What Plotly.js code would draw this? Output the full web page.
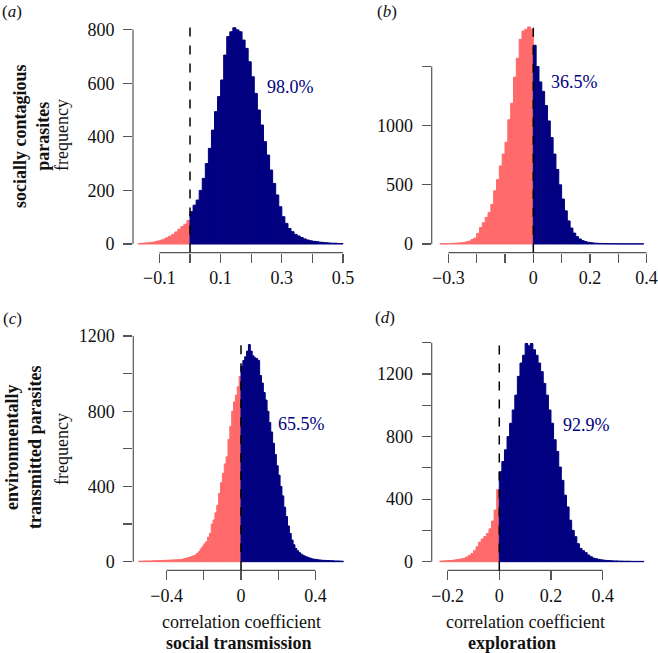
<!DOCTYPE html>
<html>
<head>
<meta charset="utf-8">
<script src="https://cdn.plot.ly/plotly-3.0.1.min.js"></script>
<style>
  html, body { margin: 0; padding: 0; background: #fff; }
  #plot { width: 658px; height: 653px; }
</style>
</head>
<body>
<div id="plot"></div>
<script>
// histogram bins are 0.01 wide; each panel starts at its own left edge
const binWidth = 0.01;

// (a) socially contagious parasites - social transmission
const aStart = -0.17;
const aCounts = [2, 3, 4, 5, 6, 8, 11, 14, 18, 23, 29, 36, 45, 55, 65, 74, 88,
  121, 145, 164, 200, 245, 300, 357, 425, 494, 550, 612, 705, 774, 792, 807, 799, 792, 761, 730, 680,
  624, 562, 500, 444, 382, 332, 276, 226, 183, 139, 102, 77, 58, 46, 36, 30, 24, 19, 15, 12,
  10, 9, 7, 6, 5, 4, 3, 3, 2, 2];

// (b) socially contagious parasites - exploration
const bStart = -0.33;
const bCounts = [2, 3, 3, 4, 5, 6, 8, 10, 12, 18, 25, 38, 50,
  90, 140, 180, 225, 265, 335, 450, 545, 660, 760, 860, 1050, 1190, 1410, 1570, 1730, 1800, 1815, 1835, 1815,
  1680, 1500, 1370, 1290, 1170, 1040, 900, 760, 630, 500, 380, 280, 195, 135, 92, 62, 42, 28, 20, 14,
  11, 8, 6, 5, 4, 3, 3, 2, 2, 2, 1, 1, 1, 1, 1, 1, 1, 1, 1];

// (c) environmentally transmitted parasites - social transmission
const cStart = -0.55;
const cCounts = [3, 3, 3, 4, 4, 4, 4, 5, 5, 5, 6, 6, 6, 7, 7, 8, 8, 9, 9, 10, 10, 11, 11,
  12, 16, 18, 21, 24, 27, 31, 35, 44, 53, 68, 80, 95, 106, 130, 151, 200, 222, 260, 300,
  363, 420, 470, 520, 558, 650, 720, 800, 850, 886, 930, 985,
  1040, 1070, 1090, 1120, 1155, 1120, 1095, 1085, 1080, 1070, 990, 950, 900, 860, 800, 740, 690, 630, 570, 510,
  460, 400, 350, 290, 240, 190, 150, 115, 90, 70, 58, 48, 40, 34, 29, 25, 21, 18, 15, 13,
  12, 10, 9, 8, 7, 7, 6, 6, 5, 5, 4, 4, 4, 3, 3];

// (d) environmentally transmitted parasites - exploration
const dStart = -0.23;
const dCounts = [4, 5, 6, 7, 8, 10, 12, 15, 18, 22, 30, 40, 52, 70, 95, 125, 145, 160, 180, 210, 260, 330, 460,
  575, 640, 715, 800, 885, 970, 1065, 1185, 1270, 1320, 1395, 1380, 1395, 1355, 1320, 1270, 1215, 1140, 1065, 970,
  885, 780, 705, 605, 520, 425, 350, 265, 200, 160, 115, 85, 70, 58, 43, 32, 23, 19, 15, 12,
  10, 8, 7, 6, 5, 5, 4, 4, 3, 3, 3, 2, 2, 2, 2, 2];

const percentLabels = ["98.0%", "36.5%", "65.5%", "92.9%"];
const panelLetters = ["a", "b", "c", "d"];
const rowLabels = ["socially contagious<br>parasites", "environmentally<br>transmitted parasites"];
const colLabels = ["social transmission", "exploration"];

const RED = "#FF6A6A";
const NAVY = "#000080";
const AXIS = "#555";
const SERIF = "Liberation Serif, Times New Roman, serif";

function histTrace(start, counts, ax) {
  const x = counts.map((_, i) => +(start + (i + 0.5) * binWidth).toFixed(4));
  const cols = x.map(v => v < 0 ? RED : NAVY);
  return {
    type: "bar",
    x: x,
    y: counts,
    width: binWidth,
    marker: { color: cols, line: { color: cols, width: 1 } },
    xaxis: "x" + ax,
    yaxis: "y" + ax,
    hoverinfo: "x+y",
    showlegend: false
  };
}

const panels = [
  { start: aStart, counts: aCounts, ax: "",
    xr: [-0.1863, 0.527], yr: [-32, 840],
    xd: [133, 351.3], yd: [18.9, 252.6],
    xt: [-0.1, 0, 0.1, 0.2, 0.3, 0.4, 0.5], xl: ["\u22120.1", "", "0.1", "", "0.3", "", "0.5"],
    yt: [0, 200, 400, 600, 800], yl: ["0", "200", "400", "600", "800"],
    pct: [0.327, 586] },
  { start: bStart, counts: bCounts, ax: "2",
    xr: [-0.359, 0.419], yr: [-73.6, 1913.6],
    xd: [431.7, 651.9], yd: [17.6, 252.7],
    xt: [-0.3, -0.2, -0.1, 0, 0.1, 0.2, 0.3, 0.4], xl: ["\u22120.3", "", "", "0", "", "0.2", "", "0.4"],
    yt: [0, 500, 1000, 1500], yl: ["0", "500", "1000", ""],
    pct: [0.147, 1372] },
  { start: cStart, counts: cCounts, ax: "3",
    xr: [-0.579, 0.594], yr: [-46, 1202],
    xd: [133.3, 351.5], yd: [335.7, 570.35],
    xt: [-0.4, -0.2, 0, 0.2, 0.4], xl: ["\u22120.4", "", "0", "", "0.4"],
    yt: [0, 200, 400, 600, 800, 1000, 1200], yl: ["0", "", "400", "", "800", "", "1200"],
    pct: [0.326, 732] },
  { start: dStart, counts: dCounts, ax: "4",
    xr: [-0.2615, 0.5916], yr: [-56, 1452],
    xd: [431.7, 652.2], yd: [334.6, 570.46],
    xt: [-0.2, 0, 0.2, 0.4], xl: ["\u22120.2", "0", "0.2", "0.4"],
    yt: [0, 200, 400, 600, 800, 1000, 1200, 1400], yl: ["0", "", "400", "", "800", "", "1200", ""],
    pct: [0.338, 874] }
];

const W = 658, H = 653;
const px = v => v / W;
const py = v => 1 - v / H;

const tickFont = { family: SERIF, size: 18, color: "#111" };

const layout = {
  width: W, height: H,
  margin: { l: 0, r: 0, t: 0, b: 0 },
  paper_bgcolor: "#fff",
  plot_bgcolor: "rgba(0,0,0,0)",
  bargap: 0,
  font: { family: SERIF, size: 18, color: "#111" },
  shapes: [],
  annotations: []
};

const data = [];

function label(x, y, text, size, extra) {
  layout.annotations.push(Object.assign({
    xref: "paper", yref: "paper", x: px(x), y: py(y),
    xanchor: "center", yanchor: "middle",
    text: text, showarrow: false,
    font: { family: SERIF, size: size, color: "#111" }
  }, extra || {}));
}

panels.forEach((p, i) => {
  data.push(histTrace(p.start, p.counts, p.ax));
  const xk = "xaxis" + p.ax, yk = "yaxis" + p.ax;
  const xid = "x" + p.ax, yid = "y" + p.ax;
  layout[xk] = {
    domain: [px(p.xd[0]), px(p.xd[1])], range: p.xr, anchor: yid,
    showgrid: false, zeroline: false, showline: false,
    ticks: "outside", ticklen: 9, tickwidth: 1.2, tickcolor: AXIS,
    tickvals: p.xt, ticktext: p.xl, tickfont: tickFont, ticklabelstandoff: 0
  };
  layout[yk] = {
    domain: [py(p.yd[1]), py(p.yd[0])], range: p.yr, anchor: xid,
    showgrid: false, zeroline: false, showline: false,
    ticks: "outside", ticklen: 9, tickwidth: 1.2, tickcolor: AXIS,
    tickvals: p.yt, ticktext: p.yl, tickfont: tickFont, ticklabelstandoff: 5
  };
  // R-style axis lines spanning the first to last tick
  layout.shapes.push({
    type: "line", xref: xid, yref: yid + " domain",
    x0: p.xt[0], x1: p.xt[p.xt.length - 1], y0: 0, y1: 0,
    line: { color: AXIS, width: 1.2 }
  });
  layout.shapes.push({
    type: "line", xref: xid + " domain", yref: yid,
    x0: 0, x1: 0, y0: p.yt[0], y1: p.yt[p.yt.length - 1],
    line: { color: AXIS, width: 1.2 }
  });
  // dashed zero line
  layout.shapes.push({
    type: "line", xref: xid, yref: yid + " domain",
    x0: 0, x1: 0, y0: 0, y1: 0.985,
    line: { color: "#000", width: 1.5, dash: "dash" }
  });
  layout.annotations.push({
    xref: xid, yref: yid, x: p.pct[0], y: p.pct[1],
    xanchor: "center", yanchor: "middle",
    text: percentLabels[i], showarrow: false,
    font: { family: SERIF, size: 18, color: NAVY }
  });
});

// panel letters
[[12, 12], [387, 12], [12, 318], [385, 317]].forEach((pos, i) => {
  label(pos[0], pos[1], "(<i>" + panelLetters[i] + "</i>)", 17);
});

// row labels and frequency titles
label(31, 136, "<b>" + rowLabels[0] + "</b>", 18, { textangle: -90 });
label(23, 448, "<b>" + rowLabels[1] + "</b>", 18, { textangle: -90 });
label(62, 135, "frequency", 18, { textangle: -90 });
label(62, 449, "frequency", 18, { textangle: -90 });

// column titles under the bottom row
label(241, 622, "correlation coefficient", 18);
label(525, 622, "correlation coefficient", 18);
label(239, 643, "<b>" + colLabels[0] + "</b>", 18);
label(512, 643, "<b>" + colLabels[1] + "</b>", 18);

Plotly.newPlot("plot", data, layout, { displayModeBar: false, staticPlot: true });
</script>
</body>
</html>
